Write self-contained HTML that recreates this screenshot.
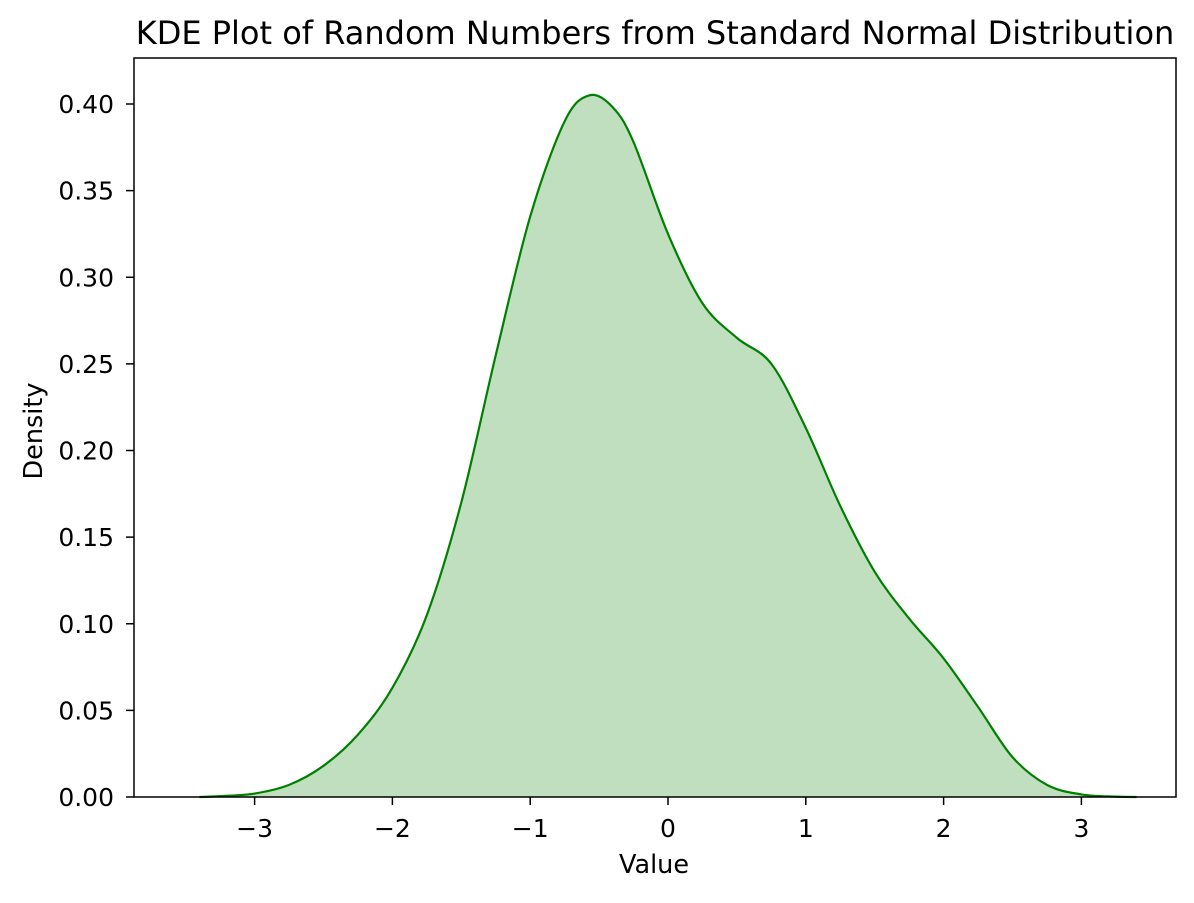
<!DOCTYPE html>
<html><head><meta charset="utf-8"><style>
body{margin:0;background:#fff}
svg text{font-family:"DejaVu Sans","Liberation Sans",sans-serif;fill:#000}
</style></head><body>
<svg id="chart" width="1194" height="898" xmlns="http://www.w3.org/2000/svg">
<text x="655" y="44" font-size="32" text-anchor="middle">KDE Plot of Random Numbers from Standard Normal Distribution</text>
<g id="plot"></g>
<text x="654" y="873" font-size="25.5" text-anchor="middle">Value</text>
<text x="42" y="431" font-size="25.5" text-anchor="middle" transform="rotate(-90 42 431)">Density</text>
</svg>
<script>
const xs=[-3.4,-3.25,-3,-2.75,-2.5,-2.25,-2,-1.75,-1.5,-1.25,-1,-0.75,-0.57,-0.4,-0.25,0,0.25,0.5,0.75,1,1.25,1.5,1.75,2,2.25,2.5,2.75,3,3.25,3.4];
const dens=[0,0.0005,0.002,0.007,0.018,0.036,0.063,0.105,0.17,0.255,0.335,0.39,0.405,0.398,0.378,0.325,0.285,0.265,0.25,0.213,0.168,0.13,0.103,0.08,0.052,0.023,0.007,0.0015,0.0002,0];
const xTicks=[-3,-2,-1,0,1,2,3];
const yTicks=[0,0.05,0.10,0.15,0.20,0.25,0.30,0.35,0.40];
const L=134,R=1176,T=58,B=797;
const X=v=>668+v*137.8, Y=v=>B-v*1732.5;
const NS="http://www.w3.org/2000/svg",g=document.getElementById('plot');
function mk(t,a){const e=document.createElementNS(NS,t);for(const k in a)e.setAttribute(k,a[k]);g.appendChild(e);return e;}
const P=xs.map((x,i)=>[X(x),Y(dens[i])]);
let d="M"+P[0][0]+","+P[0][1];
for(let i=0;i<P.length-1;i++){const p0=P[Math.max(0,i-1)],p1=P[i],p2=P[i+1],p3=P[Math.min(P.length-1,i+2)];
d+=` C${p1[0]+(p2[0]-p0[0])/6},${p1[1]+(p2[1]-p0[1])/6} ${p2[0]-(p3[0]-p1[0])/6},${p2[1]-(p3[1]-p1[1])/6} ${p2[0]},${p2[1]}`;}
const fill=mk('path',{d:d+` L${P[P.length-1][0]},${B} L${P[0][0]},${B} Z`,fill:'#008000','fill-opacity':0.25,stroke:'none'});


const line=mk('path',{d:d,fill:'none',stroke:'#008000','stroke-width':2.2});


const fr=mk('rect',{x:L,y:T,width:R-L,height:B-T,fill:'none',stroke:'#000','stroke-width':1.5});


xTicks.forEach(t=>{const x=X(t);
const tk=mk('line',{x1:x,x2:x,y1:B,y2:B+8,stroke:'#000','stroke-width':1.5});


const tx=mk('text',{x:x,y:B+40,'font-size':25,'text-anchor':'middle'});tx.textContent=(t<0?'\u2212':'')+Math.abs(t);

});
yTicks.forEach(t=>{const y=Y(t);
const tk=mk('line',{x1:L-8,x2:L,y1:y,y2:y,stroke:'#000','stroke-width':1.5});


const tx=mk('text',{x:L-20,y:y+9,'font-size':25,'text-anchor':'end'});tx.textContent=t.toFixed(2);

});
</script>
</body></html>
